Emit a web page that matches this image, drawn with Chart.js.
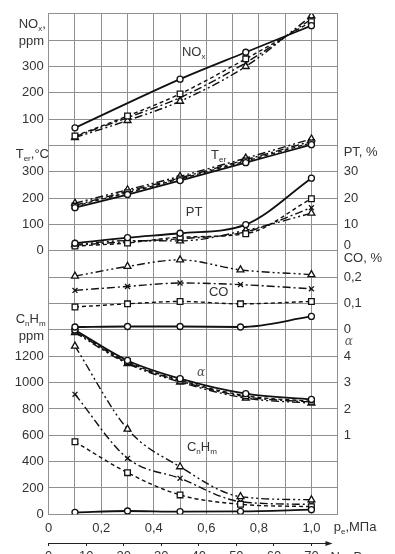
<!DOCTYPE html>
<html><head><meta charset="utf-8">
<script src="https://cdn.jsdelivr.net/npm/chart.js@4.4.1/dist/chart.umd.min.js"></script>
<style>html,body{margin:0;padding:0;overflow:hidden;background:#fff;width:395px;height:554px}canvas{display:block}</style>
</head><body><canvas id="c" width="395" height="575"></canvas>
<script>
// ---------- data ----------
const pressureA = [0.1, 0.3, 0.5, 0.75, 1.0];   // p_e, MPa
const pressureB = [0.1, 0.3, 0.5, 0.73, 1.0];
const powerTicks = [0, 10, 20, 30, 40, 50, 60, 70]; // N_e, kW

const noxCircle   = [67, null, 252, 354, 455];
const noxSquare   = [36, 112, 196, 329, 470];
const noxCross    = [34, 106, 182, 314, 480];
const noxTriangle = [30, 95, 168, 300, 492];

const tempCircle   = [164, 214, 267, 335, 403];
const tempSquare   = [170, 221, 273, 341, 410];
const tempCross    = [173, 226, 277, 346, 416];
const tempTriangle = [181, 232, 283, 352, 425];

const ptCircle   = [2.9, 5.0, 6.7, 10.0, 27.6];
const ptSquare   = [1.8, 3.0, 5.2, 6.5, 19.8];
const ptCross    = [2.1, 3.5, 4.6, 7.2, 16.4];
const ptTriangle = [2.4, 3.9, 3.8, 7.8, 14.3];

const coCircle   = [0.011, 0.013, 0.013, 0.011, 0.051];
const coSquare   = [0.087, 0.099, 0.108, 0.099, 0.108];
const coCross    = [0.150, 0.165, 0.178, 0.172, 0.156];
const coTriangle = [0.204, 0.241, 0.266, 0.228, 0.210];

const alphaCircle   = [5.0, 3.84, 3.15, 2.58, 2.36];
const alphaSquare   = [4.96, 3.79, 3.09, 2.50, 2.29];
const alphaCross    = [4.94, 3.76, 3.06, 2.46, 2.26];
const alphaTriangle = [4.90, 3.72, 3.02, 2.41, 2.22];

const hcCircle   = [15, 25, 20, 22, 35];
const hcSquare   = [551, 316, 147, 76, 58];
const hcCross    = [911, 425, 273, 96, 75];
const hcTriangle = [1277, 647, 361, 134, 110];

const noxTicks = [100, 200, 300];
const tempTicks = [0, 100, 200, 300];
const hcTicks = [0, 200, 400, 600, 800, 1000, 1200];
const ptTicks = [0, 10, 20, 30];
const coTicks = [0, 0.1, 0.2];
const alphaTicks = [1, 2, 3, 4];

// ---------- layout / style ----------
const ROWS = 19;
const panels = {
  nox:   {min: -1400, max: 500},
  temp:  {min: -1000, max: 900},
  pt:    {min: -100,  max: 90},
  co:    {min: -0.7,  max: 1.2},
  alpha: {min: -2,    max: 17},
  hc:    {min: 0,     max: 3800}
};
const FONT = '"Liberation Sans", Arial, sans-serif';
const SERIF = '"DejaVu Serif", "Liberation Serif", serif';
const TXT = '#333';
const GRID = '#8f8f8f';
const LINE = '#111';

function fmt(v) { return String(+v.toFixed(3)).replace('.', ','); }
function rowOf(panel, v) { const p = panels[panel]; return Math.round((v - p.min) / (p.max - p.min) * ROWS); }
const leftMap = {}, rightMap = {};
[['nox', noxTicks], ['temp', tempTicks], ['hc', hcTicks]].forEach(([k, t]) => t.forEach(v => leftMap[rowOf(k, v)] = fmt(v)));
[['co', coTicks], ['alpha', alphaTicks], ['pt', ptTicks]].forEach(([k, t]) => t.forEach(v => rightMap[rowOf(k, v)] = fmt(v)));
const ptZeroRow = rowOf('pt', 0); // drawn slightly raised, as in the original

const styles = [
  {pointStyle: 'circle',   radius: 3,   dash: [],                width: 1.8},
  {pointStyle: 'rect',     radius: 4,   dash: [4, 3],            width: 1.4},
  {pointStyle: 'crossRot', radius: 3.5, dash: [8, 3, 2, 3],      width: 1.4},
  {pointStyle: 'triangle', radius: 4,   dash: [8, 3, 2, 3, 2, 3], width: 1.4}
];
const datasets = [];
function addPanel(axis, xs, series) {
  series.forEach((vals, i) => {
    const s = styles[i];
    datasets.push({
      data: xs.map((x, j) => ({x, y: vals[j]})),
      yAxisID: axis,
      borderColor: LINE, backgroundColor: '#fff',
      pointBackgroundColor: '#fff', pointBorderColor: LINE, pointBorderWidth: 1.3,
      pointStyle: s.pointStyle, pointRadius: s.radius,
      borderWidth: s.width, borderDash: s.dash,
      cubicInterpolationMode: 'monotone', spanGaps: true, fill: false
    });
  });
}
addPanel('nox', pressureA, [noxCircle, noxSquare, noxCross, noxTriangle]);
addPanel('temp', pressureA, [tempCircle, tempSquare, tempCross, tempTriangle]);
addPanel('pt', pressureA, [ptCircle, ptSquare, ptCross, ptTriangle]);
addPanel('co', pressureB, [coCircle, coSquare, coCross, coTriangle]);
addPanel('alpha', pressureA, [alphaCircle, alphaSquare, alphaCross, alphaTriangle]);
addPanel('hc', pressureB, [hcCircle, hcSquare, hcCross, hcTriangle]);

function rich(ctx, x, y, parts, size, opts = {}) {
  ctx.save();
  ctx.fillStyle = opts.color || TXT;
  ctx.textBaseline = 'middle';
  ctx.textAlign = 'left';
  const fam = opts.family || FONT;
  const st = opts.style || '';
  let w = 0;
  const seg = parts.map(p => {
    const s = p[1] ? size * 0.62 : size;
    ctx.font = `${st} ${s}px ${fam}`;
    const m = ctx.measureText(p[0]).width; w += m;
    return {t: p[0], s, sub: p[1], m};
  });
  let cx = opts.align === 'right' ? x - w : x;
  seg.forEach(g => {
    ctx.font = `${st} ${g.s}px ${fam}`;
    ctx.fillText(g.t, cx, y + (g.sub ? size * 0.32 : 0));
    cx += g.m;
  });
  ctx.restore();
}

const textPlugin = {
  id: 'texts',
  afterDraw(chart) {
    const ctx = chart.ctx, a = chart.chartArea;
    const xs = chart.scales.x, gy = chart.scales.y, x2 = chart.scales.x2;
    const R = v => gy.getPixelForValue(v);
    const X = v => xs.getPixelForValue(v);
    // left titles
    rich(ctx, a.left - 30, R(18.6), [['NO'], ['x', 1], [',']], 13);
    rich(ctx, a.left - 30, R(17.97), [['ppm']], 13);
    rich(ctx, a.left - 33, R(13.66), [['T'], ['er', 1], [',°C']], 13);
    rich(ctx, a.left - 33, R(7.38), [['C'], ['n', 1], ['H'], ['m', 1]], 13);
    rich(ctx, a.left - 30, R(6.76), [['ppm']], 13);
    // right titles
    rich(ctx, a.right + 6, R(13.74), [['PT, %']], 13);
    rich(ctx, a.right + 6, R(ptZeroRow + 0.22), [[fmt(ptTicks[0])]], 13);
    rich(ctx, a.right + 6, R(9.7), [['CO, %']], 13);
    rich(ctx, a.right + 7, R(6.55), [['α']], 12, {family: SERIF, style: 'italic', color: '#666'});
    // inline series labels
    rich(ctx, X(0.507), R(17.53), [['NO'], ['x', 1]], 13);
    rich(ctx, X(0.618), R(13.62), [['T'], ['er', 1]], 13);
    rich(ctx, X(0.522), R(11.46), [['PT']], 13);
    rich(ctx, X(0.610), R(8.42), [['CO']], 13);
    rich(ctx, X(0.564), R(5.35), [['α']], 12, {family: SERIF, style: 'italic', color: '#555'});
    rich(ctx, X(0.526), R(2.54), [['C'], ['n', 1], ['H'], ['m', 1]], 13);
    // x-axis title
    rich(ctx, a.right - 4, xs.top + 13, [['p'], ['e', 1], [',МПа']], 13);
    // N_e axis line with arrow
    const yA = x2.top + 0.5;
    const x0 = x2.getPixelForValue(0), x1 = x2.getPixelForValue(75.6);
    ctx.save();
    ctx.strokeStyle = '#222'; ctx.fillStyle = '#222'; ctx.lineWidth = 1;
    ctx.beginPath(); ctx.moveTo(x0, yA); ctx.lineTo(x1 - 4, yA); ctx.stroke();
    ctx.beginPath(); ctx.moveTo(x1, yA); ctx.lineTo(x1 - 7, yA - 2.5); ctx.lineTo(x1 - 7, yA + 2.5); ctx.closePath(); ctx.fill();
    ctx.restore();
    rich(ctx, x1 - 2, x2.top + 14.5, [['N'], ['e', 1], [',кВт']], 13);
  }
};

new Chart(document.getElementById('c'), {
  type: 'line',
  data: {datasets},
  options: {
    responsive: false, animation: false, devicePixelRatio: 1,
    layout: {padding: {top: 13.3, left: 0, right: 0, bottom: 0}},
    plugins: {legend: {display: false}, tooltip: {enabled: false}},
    scales: {
      x: {
        type: 'linear', position: 'bottom', min: 0, max: 1.1,
        ticks: {
          stepSize: 0.1, autoSkip: false, maxRotation: 0, padding: 6,
          font: {family: FONT, size: 13}, color: TXT,
          callback: v => { const k = Math.round(v * 10); if (k % 2 !== 0 || k > 10) return ''; return k === 0 ? '0' : (k / 10).toFixed(1).replace('.', ','); }
        },
        grid: {color: GRID, drawTicks: false}, border: {color: GRID},
        afterFit: s => { s.height = 28.7; }
      },
      x2: {
        type: 'linear', position: 'bottom', min: 0, max: 77,
        ticks: {
          stepSize: 10, includeBounds: false, autoSkip: false, maxRotation: 0, padding: 3,
          font: {family: FONT, size: 13}, color: TXT,
          callback: v => powerTicks.includes(v) ? String(v) : ''
        },
        grid: {drawOnChartArea: false, drawTicks: true, tickLength: 3, color: '#222'},
        border: {display: false},
        afterFit: s => { s.height = 32; }
      },
      y: {
        position: 'left', min: 0, max: ROWS,
        ticks: {stepSize: 1, autoSkip: false, padding: 5, font: {family: FONT, size: 13}, color: TXT,
          callback: v => leftMap[v] !== undefined ? leftMap[v] : ''},
        grid: {color: GRID, drawTicks: false}, border: {color: GRID},
        afterFit: s => { s.width = 48.7; }
      },
      y2: {
        position: 'right', min: 0, max: ROWS,
        ticks: {stepSize: 1, autoSkip: false, padding: 6, font: {family: FONT, size: 13}, color: TXT,
          callback: v => (v !== ptZeroRow && rightMap[v] !== undefined) ? rightMap[v] : ''},
        grid: {drawOnChartArea: false, drawTicks: false}, border: {color: GRID},
        afterFit: s => { s.width = 57.3; }
      },
      nox:   {display: false, min: panels.nox.min, max: panels.nox.max},
      temp:  {display: false, min: panels.temp.min, max: panels.temp.max},
      pt:    {display: false, min: panels.pt.min, max: panels.pt.max},
      co:    {display: false, min: panels.co.min, max: panels.co.max},
      alpha: {display: false, min: panels.alpha.min, max: panels.alpha.max},
      hc:    {display: false, min: panels.hc.min, max: panels.hc.max}
    }
  },
  plugins: [textPlugin]
});
</script>
</body></html>
